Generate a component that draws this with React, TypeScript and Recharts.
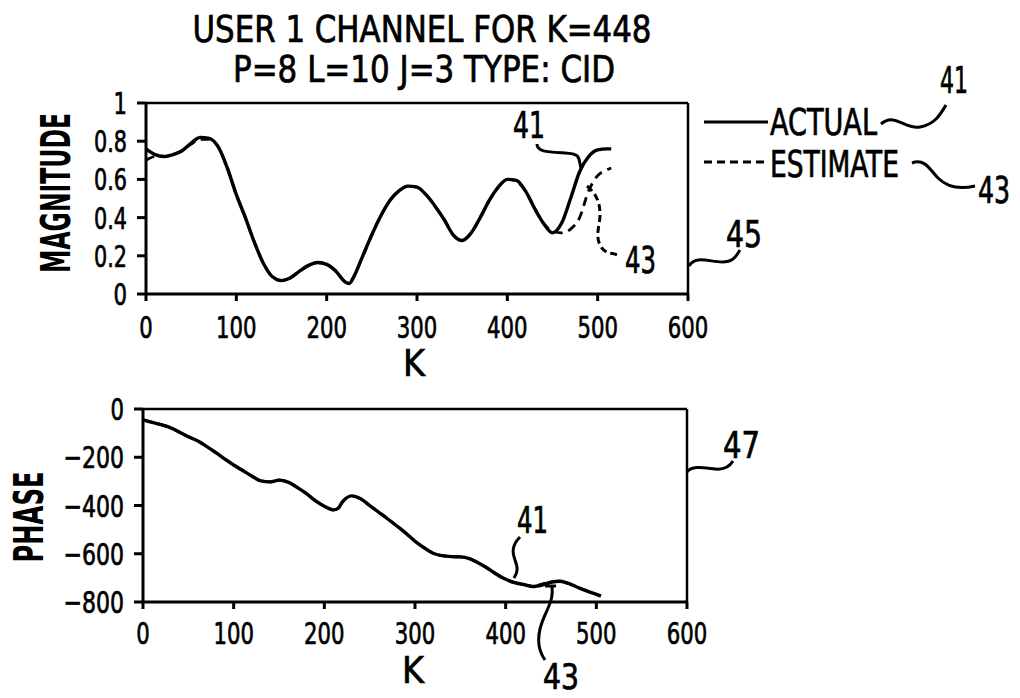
import React from "react"
import { LineChart, Line, XAxis, YAxis, ReferenceLine } from "recharts"

// magnitude panel (top)
const magK = [0, 10, 20, 30, 40, 50, 60, 70, 80, 90, 100, 110, 120, 130, 140, 150, 160, 170, 180, 190, 200, 210, 220, 225, 230, 240, 250, 260, 270, 280, 290, 300, 310, 320, 330, 340, 350, 360, 370, 380, 390, 400, 410, 420, 430, 440, 450, 460, 470, 480, 490, 500, 510, 515]
const magActual = [0.76, 0.73, 0.72, 0.73, 0.75, 0.79, 0.82, 0.815, 0.77, 0.66, 0.52, 0.4, 0.27, 0.16, 0.09, 0.07, 0.085, 0.12, 0.15, 0.165, 0.155, 0.12, 0.065, 0.055, 0.09, 0.2, 0.31, 0.41, 0.49, 0.54, 0.565, 0.56, 0.52, 0.46, 0.39, 0.31, 0.28, 0.32, 0.4, 0.49, 0.56, 0.6, 0.595, 0.54, 0.45, 0.37, 0.32, 0.37, 0.5, 0.64, 0.72, 0.755, 0.76, 0.76]
const magEstimate = [0.7, 0.72, 0.72, 0.73, 0.75, 0.785, 0.81, 0.81, 0.77, 0.66, 0.52, 0.4, 0.27, 0.16, 0.09, 0.07, 0.085, 0.12, 0.15, 0.165, 0.155, 0.12, 0.065, 0.055, 0.09, 0.2, 0.31, 0.41, 0.49, 0.54, 0.565, 0.56, 0.52, 0.46, 0.39, 0.31, 0.28, 0.32, 0.4, 0.49, 0.56, 0.6, 0.59, 0.54, 0.45, 0.37, 0.33, 0.32, 0.34, 0.4, 0.54, 0.62, 0.65, 0.66]

// phase panel (bottom)
const phaseK = [0, 10, 20, 30, 40, 50, 60, 70, 80, 90, 100, 110, 120, 130, 140, 150, 160, 170, 180, 190, 200, 210, 215, 220, 230, 240, 250, 260, 270, 280, 290, 300, 310, 320, 330, 340, 350, 360, 370, 380, 390, 400, 410, 420, 430, 440, 450, 460, 470, 480, 490, 500, 505]
const phaseActual = [-45, -55, -65, -77, -95, -115, -132, -155, -180, -207, -232, -255, -278, -298, -302, -295, -303, -325, -350, -380, -403, -418, -412, -385, -360, -372, -400, -428, -456, -485, -515, -548, -575, -598, -608, -612, -613, -620, -638, -660, -685, -706, -720, -728, -736, -730, -718, -714, -724, -740, -755, -768, -775]
const phaseEstimate = [-45, -55, -65, -77, -95, -115, -132, -155, -180, -207, -232, -255, -278, -298, -302, -295, -303, -325, -350, -380, -403, -418, -412, -385, -360, -372, -400, -428, -456, -485, -515, -548, -575, -598, -608, -612, -613, -620, -638, -660, -685, -706, -720, -728, -734, -726, -716, -714, -724, -740, -755, -768, -775]

const kTicks = [0, 100, 200, 300, 400, 500, 600]
const magTicks = [0, 0.2, 0.4, 0.6, 0.8, 1]
const phaseTicks = [-800, -600, -400, -200, 0]

const magData = magK.map((k, i) => ({ k, actual: magActual[i], estimate: magEstimate[i] }))
const phaseData = phaseK.map((k, i) => ({ k, actual: phaseActual[i], estimate: phaseEstimate[i] }))

const FONT = "'DejaVu Sans Condensed', 'Liberation Sans Narrow', 'DejaVu Sans', sans-serif"

// rough widths of the condensed scan glyphs
const tw = (s: string) => s.split("").reduce((a, c) => a + (c === "." ? 6 : c === "−" ? 20 : 13.5), 0)
const label = (v: number) => (v < 0 ? "−" + Math.abs(v) : String(v))

function XTick(props: any) {
  const { x, y, payload, off } = props
  const s = label(payload.value)
  return (
    <text x={x} y={y + off} textAnchor="middle" fontSize={31} fontFamily={FONT} fill="#000"
      stroke="#000" strokeWidth={0.7} textLength={tw(s)} lengthAdjust="spacingAndGlyphs">{s}</text>
  )
}

function YTick(props: any) {
  const { x, y, payload } = props
  const s = label(payload.value)
  return (
    <text x={x - 10} y={y + 11} textAnchor="end" fontSize={31} fontFamily={FONT} fill="#000"
      stroke="#000" strokeWidth={0.7} textLength={tw(s)} lengthAdjust="spacingAndGlyphs">{s}</text>
  )
}

function T({ x, y, w, size = 37, bold = false, anchor = "start", rot, children }: any) {
  return (
    <text x={x} y={y} fontSize={size} fontFamily={FONT} fontWeight={bold ? "bold" : "normal"}
      textAnchor={anchor} textLength={w} lengthAdjust="spacingAndGlyphs" fill="#000"
      stroke="#000" strokeWidth={bold ? 0 : 0.7}
      transform={rot ? `rotate(-90 ${x} ${y})` : undefined}>{children}</text>
  )
}

const axisStyle = { stroke: "#000", strokeWidth: 3 }

export default function App() {
  return (
    <div style={{ position: "absolute", left: 0, top: 0, width: 1020, height: 698, background: "#fff" }}>
      <div style={{ position: "absolute", left: 0, top: 0 }}>
        <LineChart width={1020} height={400} data={magData}
          margin={{ top: 103, right: 332, left: 86, bottom: 56 }}>
          <XAxis dataKey="k" type="number" domain={[0, 600]} ticks={kTicks} height={50}
            axisLine={axisStyle} tickLine={axisStyle} tickSize={7} tickMargin={0}
            tick={<XTick off={37} />} interval={0} />
          <YAxis type="number" domain={[0, 1]} ticks={magTicks} width={60}
            axisLine={axisStyle} tickLine={axisStyle} tickSize={9} tickMargin={0}
            tick={<YTick />} interval={0} />
          <ReferenceLine y={1} stroke="#000" strokeWidth={2.5} />
          <ReferenceLine x={600} stroke="#000" strokeWidth={2.5} />
          <Line dataKey="actual" type="monotone" stroke="#000" strokeWidth={3.4} dot={false} isAnimationActive={false} />
          <Line dataKey="estimate" type="monotone" stroke="#000" strokeWidth={2.8} strokeDasharray="9 6" dot={false} isAnimationActive={false} />
        </LineChart>
      </div>
      <div style={{ position: "absolute", left: 0, top: 380 }}>
        <LineChart width={1020} height={318} data={phaseData}
          margin={{ top: 29, right: 333, left: 83, bottom: 46 }}>
          <XAxis dataKey="k" type="number" domain={[0, 600]} ticks={kTicks} height={50}
            axisLine={axisStyle} tickLine={axisStyle} tickSize={7} tickMargin={0}
            tick={<XTick off={35} />} interval={0} />
          <YAxis type="number" domain={[-800, 0]} ticks={phaseTicks} width={60}
            axisLine={axisStyle} tickLine={axisStyle} tickSize={9} tickMargin={0}
            tick={<YTick />} interval={0} />
          <ReferenceLine y={0} stroke="#000" strokeWidth={2.5} />
          <ReferenceLine x={600} stroke="#000" strokeWidth={2.5} />
          <Line dataKey="actual" type="monotone" stroke="#000" strokeWidth={3.4} dot={false} isAnimationActive={false} />
          <Line dataKey="estimate" type="monotone" stroke="#000" strokeWidth={2.8} strokeDasharray="9 6" dot={false} isAnimationActive={false} />
        </LineChart>
      </div>

      {/* titles, axis names, legend and reference numerals */}
      <svg width={1020} height={698} style={{ position: "absolute", left: 0, top: 0, pointerEvents: "none" }}>
        <T x={422} y={42} w={459} anchor="middle">USER 1 CHANNEL FOR K=448</T>
        <T x={424} y={82} w={382} anchor="middle">P=8 L=10 J=3 TYPE: CID</T>
        <T x={70} y={193} w={160} size={40} bold anchor="middle" rot>MAGNITUDE</T>
        <T x={43} y={517} w={91} size={40} bold anchor="middle" rot>PHASE</T>
        <T x={414} y={376} w={22} size={38} anchor="middle">K</T>
        <T x={413} y={683} w={22} size={38} anchor="middle">K</T>

        <line x1={704} y1={122} x2={768} y2={122} stroke="#000" strokeWidth={3} />
        <T x={770} y={135} w={107}>ACTUAL</T>
        <line x1={704} y1={162} x2={768} y2={162} stroke="#000" strokeWidth={3} strokeDasharray="8 5" />
        <T x={770} y={177} w={129}>ESTIMATE</T>

        <g fill="none" stroke="#000" strokeWidth={3}>
          <path d="M 881 124 C 895 112, 905 130, 920 127 S 940 115, 946 105" />
          <path d="M 912 163 C 925 158, 930 170, 938 178 S 958 190, 975 186" />
          <path d="M 689 266 C 695 255, 710 262, 722 262 S 736 256, 740 250" />
          <path d="M 537 144 C 537 152, 548 152, 565 153 S 578 158, 581 168" />
          <path d="M 587 186 C 598 195, 600 205, 600 215 S 595 235, 600 245 S 612 252, 620 256" strokeDasharray="7 4" />
          <path d="M 687 472 C 692 465, 705 468, 715 469 S 730 466, 733 461" />
          <path d="M 520 537 C 512 545, 512 552, 515 560 S 518 572, 514 578" />
          <path d="M 545 660 C 535 646, 538 630, 545 615 S 553 595, 552 586" />
          <path d="M 545 586 L 556 586" />
        </g>
        <T x={940} y={93} w={28}>41</T>
        <T x={978} y={203} w={32}>43</T>
        <T x={726} y={247} w={36}>45</T>
        <T x={513} y={138} w={32}>41</T>
        <T x={625} y={273} w={31}>43</T>
        <T x={723} y={458} w={37}>47</T>
        <T x={517} y={533} w={31}>41</T>
        <T x={543} y={689} w={36} size={35}>43</T>
      </svg>
    </div>
  )
}
